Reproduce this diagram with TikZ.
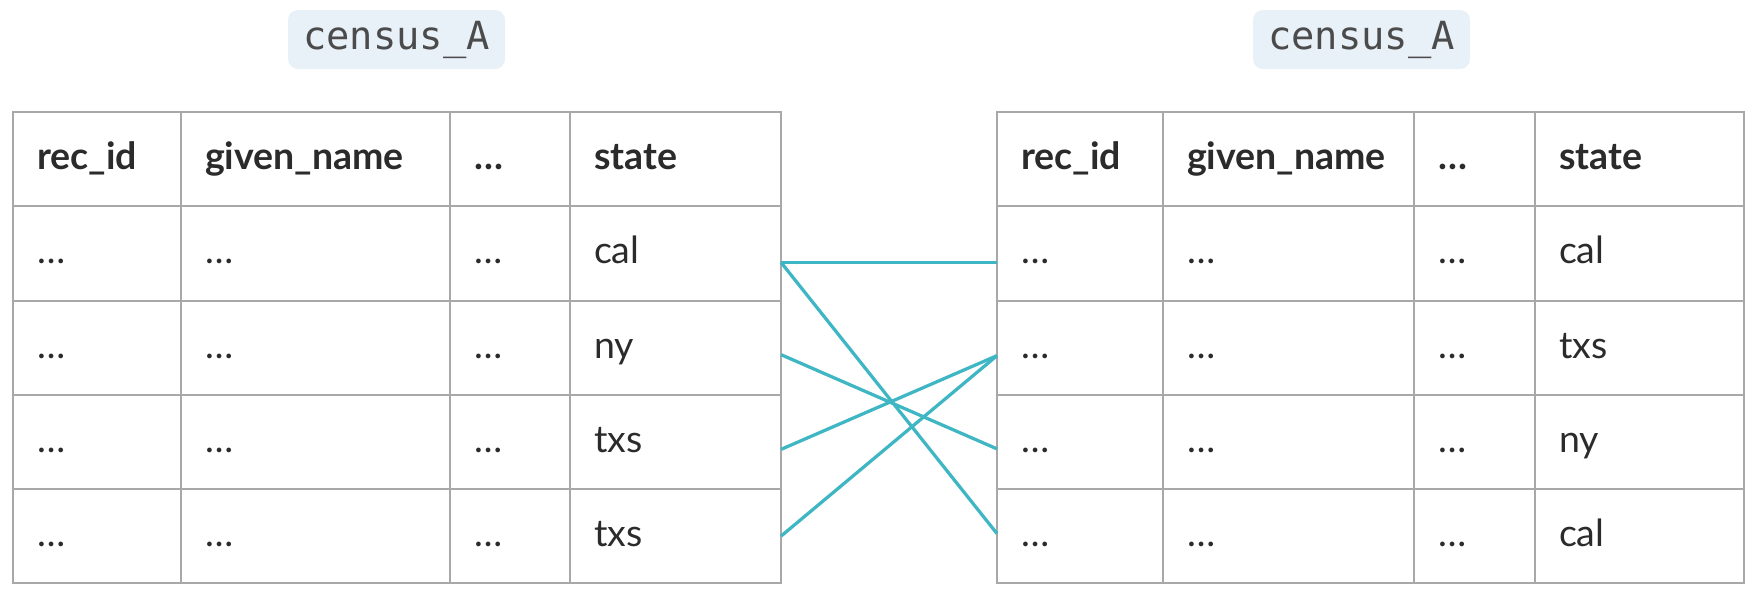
\documentclass[tikz,border=0pt]{standalone}
\usepackage{fontspec}
\setmainfont{Lato}
\newfontfamily\codefont{DejaVu Sans Mono}
\usetikzlibrary{positioning}

\definecolor{gridgray}{HTML}{A8A8A8}
\definecolor{linkteal}{HTML}{3FB6C4}
\definecolor{tagfill}{HTML}{E8F0F8}
\definecolor{inkgray}{HTML}{2B2B2B}

\tikzset{
	cell/.style={draw=gridgray, line width=0.8pt, outer sep=0pt, inner xsep=9.6pt, inner ysep=0pt,
		minimum height=37.7pt, text width=#1, align=left, text height=12pt, text depth=3.6pt,
		font=\fontsize{15}{18}\selectfont, text=inkgray},
	head/.style={cell=#1, font=\fontsize{15}{18}\selectfont\bfseries},
	tag/.style={fill=tagfill, rounded corners=4pt, minimum width=86.8pt, minimum height=23.6pt,
		font=\codefont\fontsize{15.5}{18}\selectfont, text=inkgray!85},
	link/.style={draw=linkteal, line width=1.3pt},
}

\begin{document}
\begin{tikzpicture}[node distance=0pt]
	\useasboundingbox (0,0) rectangle (700pt,-236.8pt);
	
	% left table
	\node[tag] (ltag) at (158.6pt,-15.8pt) {census\_A};
	\node[head=48pt, anchor=north west] (l0a) at (5.2pt,-44.8pt) {rec\_id};
	\node[head=88.4pt, right=of l0a] (l0b) {given\_name};
	\node[head=28.8pt, right=of l0b] (l0c) {…};
	\node[head=65.2pt, right=of l0c] (l0d) {state};
	\foreach \st [count=\r] in {cal,ny,txs,txs} {
		\pgfmathtruncatemacro\p{\r-1}
		\node[cell=48pt, below=of l\p a] (l\r a) {…};
		\node[cell=88.4pt, right=of l\r a] (l\r b) {…};
		\node[cell=28.8pt, right=of l\r b] (l\r c) {…};
		\node[cell=65.2pt, right=of l\r c] (l\r d) {\st};
	}
	
	% right table
	\node[tag] (rtag) at (544.6pt,-15.8pt) {census\_A};
	\node[head=47.2pt, anchor=north west] (r0a) at (398.8pt,-44.8pt) {rec\_id};
	\node[head=81.2pt, right=of r0a] (r0b) {given\_name};
	\node[head=29.2pt, right=of r0b] (r0c) {…};
	\node[head=64.4pt, right=of r0c] (r0d) {state};
	\foreach \st [count=\r] in {cal,txs,ny,cal} {
		\pgfmathtruncatemacro\p{\r-1}
		\node[cell=47.2pt, below=of r\p a] (r\r a) {…};
		\node[cell=81.2pt, right=of r\r a] (r\r b) {…};
		\node[cell=29.2pt, right=of r\r b] (r\r c) {…};
		\node[cell=64.4pt, right=of r\r c] (r\r d) {\st};
	}
	
	% matching links
	\draw[link] ([yshift=-3.6pt]l1d.east) -- ([yshift=-3.6pt]r1a.west);
	\draw[link] ([yshift=-3.6pt]l1d.east) -- ([yshift=1pt]r4a.west);
	\draw[link] ([yshift=-2.8pt]l2d.east) -- ([yshift=-2.8pt]r3a.west);
	\draw[link] ([yshift=-3pt]l3d.east) -- ([yshift=-3.2pt]r2a.west);
	\draw[link] (l4d.east) -- ([yshift=-3.2pt]r2a.west);
\end{tikzpicture}
\end{document}
